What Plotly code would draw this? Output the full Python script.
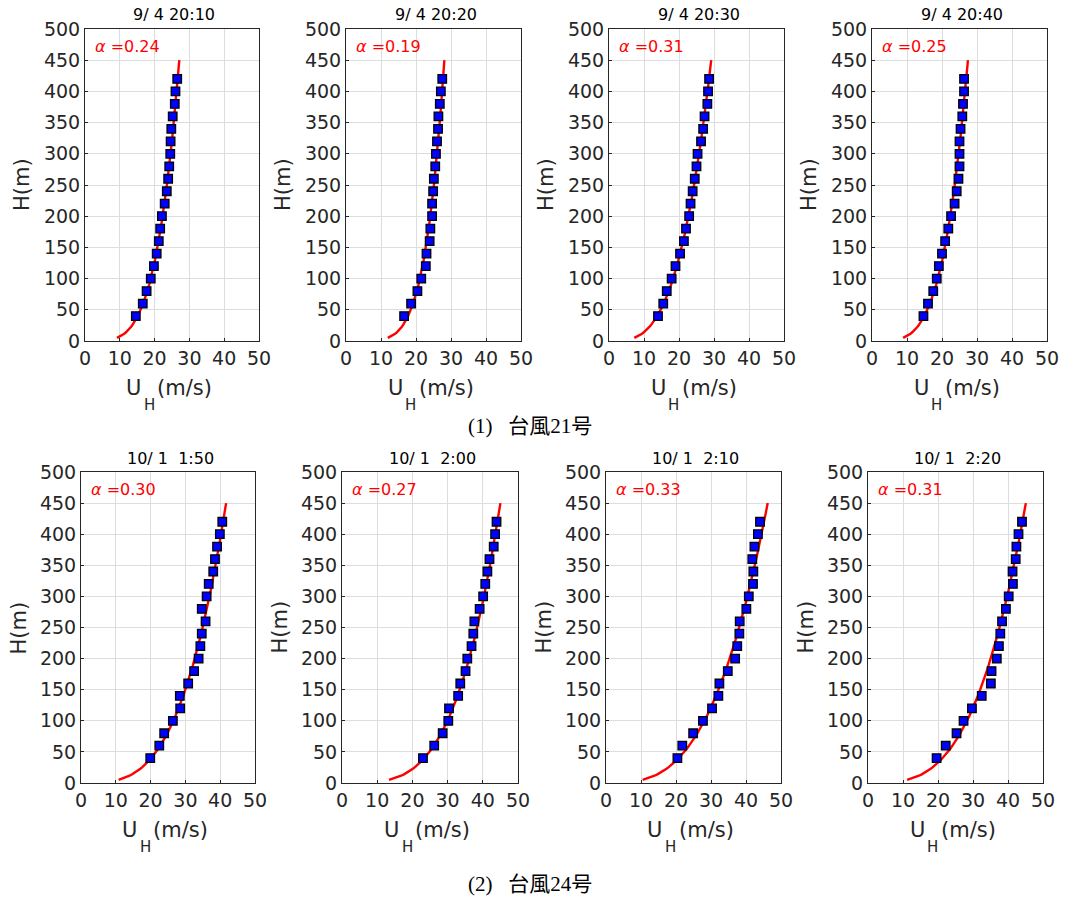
import numpy as np
import plotly.graph_objects as go

# ---------------- data ----------------
heights = [40, 60, 80, 100, 120, 140, 160, 180, 200, 220,
           240, 260, 280, 300, 320, 340, 360, 380, 400, 420]

titles = ["9/ 4 20:10", "9/ 4 20:20", "9/ 4 20:30", "9/ 4 20:40",
          "10/ 1  1:50", "10/ 1  2:00", "10/ 1  2:10", "10/ 1  2:20"]

alphas = [0.24, 0.19, 0.31, 0.25, 0.30, 0.27, 0.33, 0.31]
alpha_labels = ["0.24", "0.19", "0.31", "0.25", "0.30", "0.27", "0.33", "0.31"]
# wind speed of the fitted power-law curve at its top height (450 m)
u_fit_top = [27.1, 28.1, 29.2, 27.4, 41.7, 45.0, 46.2, 45.1]
fit_z_min = 5
fit_z_max = 450

u_0904_2010 = [14.6, 16.6, 17.7, 18.9, 19.8, 20.6, 21.2, 21.6, 22.1, 22.9,
               23.5, 23.9, 24.2, 24.5, 24.6, 24.8, 25.2, 25.8, 26.0, 26.5]
u_0904_2020 = [16.6, 18.6, 20.4, 21.5, 22.8, 23.0, 23.9, 24.1, 24.6, 24.6,
               24.9, 25.1, 25.5, 25.7, 26.0, 26.3, 26.4, 26.8, 27.1, 27.5]
u_0904_2030 = [14.0, 15.5, 16.5, 17.9, 19.0, 20.3, 21.4, 22.0, 22.9, 23.3,
               23.9, 24.5, 25.0, 25.3, 26.3, 26.9, 27.3, 28.1, 28.3, 28.6]
u_0904_2040 = [14.7, 16.0, 17.5, 18.5, 19.1, 20.0, 20.9, 21.8, 22.6, 23.6,
               24.2, 24.7, 25.0, 25.0, 25.0, 25.3, 25.8, 26.0, 26.3, 26.3]
u_1001_0150 = [19.9, 22.5, 23.9, 26.4, 28.5, 28.4, 30.8, 32.5, 33.8, 34.3,
               34.7, 35.8, 34.7, 36.1, 36.7, 38.0, 38.5, 39.1, 39.9, 40.6]
u_1001_0200 = [23.0, 26.2, 28.6, 30.2, 30.4, 33.0, 33.6, 35.1, 35.6, 36.8,
               37.3, 37.6, 39.1, 40.1, 40.7, 41.3, 41.9, 43.1, 43.5, 43.9]
u_1001_0210 = [20.4, 21.8, 24.9, 27.7, 30.3, 32.1, 32.4, 34.8, 36.9, 37.5,
               38.1, 38.2, 40.1, 40.8, 42.0, 42.1, 41.8, 42.4, 43.4, 44.0]
u_1001_0220 = [19.6, 22.2, 25.3, 27.3, 29.7, 32.5, 35.1, 35.3, 36.8, 37.4,
               37.8, 38.3, 39.4, 40.2, 41.4, 41.3, 42.2, 42.4, 43.0, 44.0]

panel_speeds = [u_0904_2010, u_0904_2020, u_0904_2030, u_0904_2040,
                u_1001_0150, u_1001_0200, u_1001_0210, u_1001_0220]

x_ticks = [0, 10, 20, 30, 40, 50]
y_ticks = [0, 50, 100, 150, 200, 250, 300, 350, 400, 450, 500]

captions = ["(1)\u00a0\u00a0\u00a0台風21号", "(2)\u00a0\u00a0\u00a0台風24号"]

# ---------------- layout (pixel boxes) ----------------
W, H = 1065, 897
# (left, right, top, bottom) in pixels
boxes = [(85, 259, 29, 341), (346, 521, 29, 341), (609, 784, 29, 341), (872, 1047, 29, 341),
         (81, 255, 472, 783), (342, 518, 472, 783), (606, 781, 472, 783), (868, 1043, 472, 783)]
caption_pos = [(530, 426), (530, 884)]

def px(x):
    return x / W

def py(y):
    return 1 - y / H

SANS = "DejaVu Sans, Noto Sans CJK JP, sans-serif"
GRAY = "#262626"
tick_font = dict(family=SANS, size=19, color=GRAY)
label_font = dict(family=SANS, size=21, color=GRAY)

fig = go.Figure()
annotations = []
layout_axes = {}

def ann(x, y, text, font, xanchor="center", yanchor="middle", **kw):
    annotations.append(dict(x=px(x), y=py(y), xref="paper", yref="paper", text=text,
                            showarrow=False, font=font, xanchor=xanchor, yanchor=yanchor, **kw))

for i, (box, title, a, alab, utop, speeds) in enumerate(
        zip(boxes, titles, alphas, alpha_labels, u_fit_top, panel_speeds)):
    l, r, t, b = box
    n = i + 1
    xa = "x" if n == 1 else f"x{n}"
    ya = "y" if n == 1 else f"y{n}"
    xkey = "xaxis" if n == 1 else f"xaxis{n}"
    ykey = "yaxis" if n == 1 else f"yaxis{n}"

    # fitted power-law curve
    z = np.linspace(fit_z_min, fit_z_max, 200)
    u = utop * (z / fit_z_max) ** a
    fig.add_trace(go.Scatter(x=u, y=z, mode="lines", line=dict(color="#ff0000", width=2.4),
                             xaxis=xa, yaxis=ya, showlegend=False, hoverinfo="skip"))
    # observed points
    fig.add_trace(go.Scatter(x=speeds, y=heights, mode="markers",
                             marker=dict(symbol="square", size=8.5, color="#0000ff",
                                         line=dict(color="#000000", width=1.3)),
                             xaxis=xa, yaxis=ya, showlegend=False))

    axis_common = dict(showgrid=True, gridcolor="#dddddd", gridwidth=1,
                       showline=True, linecolor=GRAY, linewidth=1, mirror=True,
                       zeroline=False, ticks="inside", ticklen=3, tickcolor=GRAY,
                       tickfont=tick_font, automargin=False, fixedrange=True)
    layout_axes[xkey] = dict(domain=[px(l), px(r)], range=[0, 50], tickvals=x_ticks,
                             anchor=ya, **axis_common)
    layout_axes[ykey] = dict(domain=[py(b), py(t)], range=[0, 500], tickvals=y_ticks,
                             anchor=xa, **axis_common)

    cx = (l + r) / 2
    # panel title
    ann(cx + 2, t - 14, title, dict(family=SANS, size=16, color="#000000"))
    # alpha label
    ann(l + 8, t + 17, f"<i>α</i> ={alab}", dict(family=SANS, size=16, color="#ff0000"),
        xanchor="left")
    # y label
    ann(l - 63, (t + b) / 2, "H(m)", label_font, textangle=-90)
    # x label: U, subscript H, (m/s)
    ann(cx - 29, b + 47, "U", label_font, xanchor="right")
    ann(cx - 23, b + 64, "H", dict(family=SANS, size=15, color=GRAY))
    ann(cx - 17, b + 47, "(m/s)", label_font, xanchor="left")

for cap, (cx, cy) in zip(captions, caption_pos):
    ann(cx, cy, cap, dict(family="Liberation Serif, Noto Sans CJK JP, serif", size=21,
                          color="#000000"))

fig.update_layout(width=W, height=H, margin=dict(l=0, r=0, t=0, b=0, autoexpand=False),
                  paper_bgcolor="white", plot_bgcolor="white", hovermode=False,
                  annotations=annotations, **layout_axes)

fig.write_html("out.html", config={"displayModeBar": False, "staticPlot": True},
               post_script="document.body.style.margin='0px';document.body.style.padding='0px';")
